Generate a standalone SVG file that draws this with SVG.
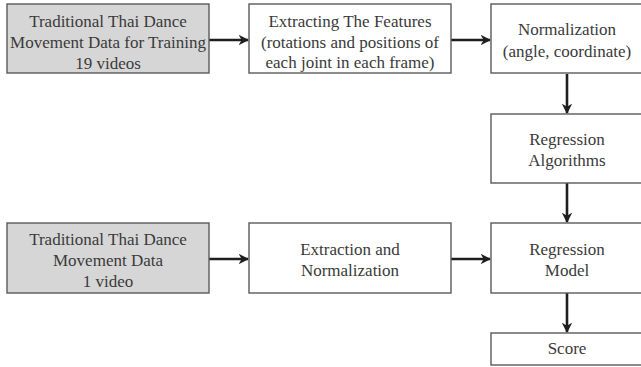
<svg xmlns="http://www.w3.org/2000/svg" width="641" height="367" viewBox="0 0 641 367">
<defs>
<style>
.box{fill:#ffffff;stroke:#5a5a5a;stroke-width:1.4}
.grey{fill:#d6d6d6}
.edge{stroke:#1e1e1e;stroke-width:2.6;fill:none}
</style>
<marker id="ah" viewBox="0 0 10 10" refX="9" refY="5" markerWidth="4" markerHeight="4" markerUnits="strokeWidth" orient="auto">
<path d="M0,0 L10,5 L0,10 L3,5 Z" fill="#1e1e1e"/>
</marker>
</defs>
<rect width="641" height="367" fill="#ffffff"/>
<g id="connectors">
<line class="edge" x1="209" y1="40" x2="248" y2="40" marker-end="url(#ah)"/>
<line class="edge" x1="451" y1="40" x2="490" y2="40" marker-end="url(#ah)"/>
<line class="edge" x1="567" y1="74" x2="567" y2="113" marker-end="url(#ah)"/>
<line class="edge" x1="567" y1="183" x2="567" y2="222" marker-end="url(#ah)"/>
<line class="edge" x1="209" y1="259" x2="248" y2="259" marker-end="url(#ah)"/>
<line class="edge" x1="451" y1="259" x2="490" y2="259" marker-end="url(#ah)"/>
<line class="edge" x1="567" y1="293" x2="567" y2="332" marker-end="url(#ah)"/>
</g>
<g id="train-data">
<rect class="box grey" x="7" y="4" width="202" height="69"/>
<text x="108" y="27" font-family="Liberation Serif, serif" font-size="17" fill="#3a3a3a" text-anchor="middle" style="font-family:'Liberation Serif',serif">Traditional Thai Dance</text>
<text x="108" y="48" font-family="Liberation Serif, serif" font-size="17" fill="#3a3a3a" text-anchor="middle" style="font-family:'Liberation Serif',serif">Movement Data for Training</text>
<text x="108" y="69" font-family="Liberation Serif, serif" font-size="17" fill="#3a3a3a" text-anchor="middle" style="font-family:'Liberation Serif',serif">19 videos</text>
</g>
<g id="extract-features">
<rect class="box" x="249" y="4" width="202" height="69"/>
<text x="350" y="27" font-family="Liberation Serif, serif" font-size="17" fill="#3a3a3a" text-anchor="middle" style="font-family:'Liberation Serif',serif">Extracting The Features</text>
<text x="350" y="48" font-family="Liberation Serif, serif" font-size="17" fill="#3a3a3a" text-anchor="middle" style="font-family:'Liberation Serif',serif">(rotations and positions of</text>
<text x="350" y="68" font-family="Liberation Serif, serif" font-size="17" fill="#3a3a3a" text-anchor="middle" style="font-family:'Liberation Serif',serif">each joint in each frame)</text>
</g>
<g id="normalization">
<rect class="box" x="491" y="4" width="152" height="69"/>
<text x="567" y="35" font-family="Liberation Serif, serif" font-size="17" fill="#3a3a3a" text-anchor="middle" style="font-family:'Liberation Serif',serif">Normalization</text>
<text x="567" y="57" font-family="Liberation Serif, serif" font-size="17" fill="#3a3a3a" text-anchor="middle" style="font-family:'Liberation Serif',serif">(angle, coordinate)</text>
</g>
<g id="regression-algorithms">
<rect class="box" x="491" y="114" width="152" height="69"/>
<text x="567" y="145" font-family="Liberation Serif, serif" font-size="17" fill="#3a3a3a" text-anchor="middle" style="font-family:'Liberation Serif',serif">Regression</text>
<text x="567" y="166" font-family="Liberation Serif, serif" font-size="17" fill="#3a3a3a" text-anchor="middle" style="font-family:'Liberation Serif',serif">Algorithms</text>
</g>
<g id="test-data">
<rect class="box grey" x="7" y="223" width="202" height="70"/>
<text x="108" y="245" font-family="Liberation Serif, serif" font-size="17" fill="#3a3a3a" text-anchor="middle" style="font-family:'Liberation Serif',serif">Traditional Thai Dance</text>
<text x="108" y="266" font-family="Liberation Serif, serif" font-size="17" fill="#3a3a3a" text-anchor="middle" style="font-family:'Liberation Serif',serif">Movement Data</text>
<text x="108" y="287" font-family="Liberation Serif, serif" font-size="17" fill="#3a3a3a" text-anchor="middle" style="font-family:'Liberation Serif',serif">1 video</text>
</g>
<g id="extraction-normalization">
<rect class="box" x="249" y="223" width="202" height="70"/>
<text x="350" y="255" font-family="Liberation Serif, serif" font-size="17" fill="#3a3a3a" text-anchor="middle" style="font-family:'Liberation Serif',serif">Extraction and</text>
<text x="350" y="276" font-family="Liberation Serif, serif" font-size="17" fill="#3a3a3a" text-anchor="middle" style="font-family:'Liberation Serif',serif">Normalization</text>
</g>
<g id="regression-model">
<rect class="box" x="491" y="223" width="152" height="70"/>
<text x="567" y="255" font-family="Liberation Serif, serif" font-size="17" fill="#3a3a3a" text-anchor="middle" style="font-family:'Liberation Serif',serif">Regression</text>
<text x="567" y="276" font-family="Liberation Serif, serif" font-size="17" fill="#3a3a3a" text-anchor="middle" style="font-family:'Liberation Serif',serif">Model</text>
</g>
<g id="score">
<rect class="box" x="491" y="333" width="152" height="32"/>
<text x="567" y="354" font-family="Liberation Serif, serif" font-size="17" fill="#3a3a3a" text-anchor="middle" style="font-family:'Liberation Serif',serif">Score</text>
</g>
</svg>
